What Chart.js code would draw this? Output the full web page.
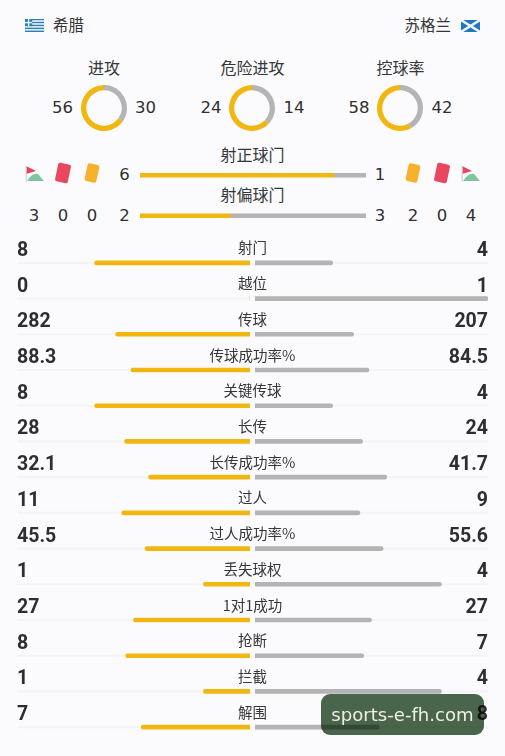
<!DOCTYPE html>
<html><head><meta charset="utf-8">
<script src="https://cdn.jsdelivr.net/npm/chart.js@4"></script>
<style>
html,body{margin:0;padding:0;background:#fbfbfe;width:505px;height:756px;overflow:hidden}
#root{position:relative;width:505px;height:756px;font-family:"Noto Sans CJK SC","Noto Sans",sans-serif;color:#363636}
#root canvas{position:absolute}
.t{position:absolute;white-space:nowrap;line-height:1;transform:translate(-50%,-50%)}
.r{position:absolute;white-space:nowrap;line-height:1;transform:translateY(-50%)}
.n{font-family:"DejaVu Sans",sans-serif;font-size:16.5px;color:#2f2f2f}
.b{font-family:Roboto,sans-serif;font-weight:700;font-size:19.5px;color:#2e2e2e}
.card{position:absolute;border-radius:2px;transform:translate(-50%,-50%) rotate(12deg)}
svg{position:absolute}
#wm{position:absolute;left:321px;top:694px;width:163px;height:41px;border-radius:9px;background:#4a664c;mix-blend-mode:multiply}
#wmt{position:absolute;left:321px;top:694px;width:163px;height:41px;color:#efefe6;font-family:"DejaVu Sans",sans-serif;font-size:18.1px;display:flex;align-items:center;justify-content:center}
</style></head><body><div id="root"></div>
<script>
const teamNames = ['希腊', '苏格兰'];
const donutTitles = ['进攻', '危险进攻', '控球率'];
const donutLeft = [56, 24, 58];
const donutRight = [30, 14, 42];
const goalTitles = ['射正球门', '射偏球门'];
const goalLeft = [6, 2];
const goalRight = [1, 3];
const eventsLeft = [3, 0, 0];
const eventsRight = [2, 0, 4];
const statLabels = ['射门','越位','传球','传球成功率%','关键传球','长传','长传成功率%','过人','过人成功率%','丢失球权','1对1成功','抢断','拦截','解围'];
const statLeft = ['8','0','282','88.3','8','28','32.1','11','45.5','1','27','8','1','7'];
const statRight = ['4','1','207','84.5','4','24','41.7','9','55.6','4','27','7','4','8'];

const YELLOW = '#f2b610', GRAY = '#b4b4b4', TRACK = '#f4f4f6';
const root = document.getElementById('root');
Chart.defaults.animation = false;
const base = {responsive:false, maintainAspectRatio:false, layout:{padding:0},
  plugins:{legend:{display:false}, tooltip:{enabled:false}}, events:[]};

function canvas(x,y,w,h){const c=document.createElement('canvas');c.width=w;c.height=h;
  c.style.cssText=`left:${x}px;top:${y}px;width:${w}px;height:${h}px`;root.appendChild(c);return c;}
function text(cls,s,x,y,size){const d=document.createElement('div');d.className='t '+cls;d.textContent=s;
  d.style.left=x+'px';d.style.top=y+'px';if(size)d.style.fontSize=size+'px';root.appendChild(d);return d;}
function edge(cls,s,side,px,y,size){const d=document.createElement('div');d.className='r '+cls;d.textContent=s;
  d.style[side]=px+'px';d.style.top=y+'px';if(size)d.style.fontSize=size+'px';root.appendChild(d);return d;}
function svg(x,y,w,h,inner){root.insertAdjacentHTML('beforeend',`<svg style="left:${x}px;top:${y}px" width="${w}" height="${h}" viewBox="0 0 ${w} ${h}">${inner}</svg>`);}
function card(x,y,w,h,color){root.insertAdjacentHTML('beforeend',`<div class="card" style="left:${x}px;top:${y}px;width:${w}px;height:${h}px;background:${color}"></div>`);}

// Header
edge('',teamNames[0],'left',53,25,15.5);
edge('',teamNames[1],'right',54,25,15.5);
let stripes='';
for(let i=0;i<9;i++) stripes+=`<rect x="0" y="${i*1.45}" width="19" height="1.45" fill="${i%2?'#dfe9f1':'#2a80b5'}"/>`;
svg(25,19,19,13,stripes+`<rect width="7.2" height="7.2" fill="#2a80b5"/><rect x="2.9" width="1.4" height="7.2" fill="#eef3f7"/><rect y="2.9" width="7.2" height="1.4" fill="#eef3f7"/>`);
svg(461,20,19,12,`<rect width="19" height="12" fill="#1f78c1"/><path d="M0 0L19 12M19 0L0 12" stroke="#f4f7fa" stroke-width="2.4"/>`);

// Doughnuts
const donutX = [104, 252.5, 400.5];
donutTitles.forEach((title,i)=>{
  text('',title,donutX[i],66.5,16);
  text('n',String(donutLeft[i]),donutX[i]-41.5,107.5,16.5);
  text('n',String(donutRight[i]),donutX[i]+41.5,107.5,16.5);
  new Chart(canvas(Math.floor(donutX[i])-24,84,48,48),{type:'doughnut',
    data:{datasets:[{data:[donutRight[i],donutLeft[i]],backgroundColor:[GRAY,YELLOW],borderWidth:0}]},
    options:{...base,cutout:'77%',radius:23}});
});

// Goal bars (each row stacked to its total)
const goalTotals = goalLeft.map((v,i)=>v+goalRight[i]);
goalTitles.forEach((t,i)=>text('',t,252.5,154+40*i,16));
goalLeft.forEach((v,i)=>{text('n',String(v),124.5,175+40.5*i);text('n',String(goalRight[i]),380,175+40.5*i);});
new Chart(canvas(140,155,226,81),{type:'bar',
  data:{labels:goalTitles,datasets:[
    {data:goalLeft.map((v,i)=>v/goalTotals[i]),backgroundColor:YELLOW,barThickness:4},
    {data:goalRight.map((v,i)=>v/goalTotals[i]),backgroundColor:GRAY,barThickness:4}]},
  options:{...base,indexAxis:'y',scales:{
    x:{display:false,stacked:true,min:0,max:1},y:{display:false,stacked:true}}}});

// Event icons
const flag=(x,y)=>svg(x,y,19,18,`<path d="M1 1L11 6L1 9Z" fill="#e8455c"/><rect x="0.6" y="1" width="1.2" height="16" fill="#cfd5cf"/><path d="M2 16Q8 7 13 9L19 16Z" fill="#7fc4a0"/>`);
flag(25,165); card(63,173,13,19,'#e8475f'); card(92,173,12,18,'#f6b22d');
card(413,173,12,18,'#f6b22d'); card(442,173,13,19,'#e8475f'); flag(461,165);
[34,63,92].forEach((x,i)=>text('n',String(eventsLeft[i]),x,215.5));
[413,442,471].forEach((x,i)=>text('n',String(eventsRight[i]),x,215.5));

// Stat rows
const L = statLeft.map(Number), R = statRight.map(Number);
const shareL = L.map((v,i)=>v/(v+R[i])), shareR = R.map((v,i)=>v/(L[i]+v));
const track = statLabels.map(()=>1);
function side(x,shares,color,reverse){
  new Chart(canvas(x,245,233,500),{type:'bar',
    data:{labels:statLabels,datasets:[
      {data:shares,backgroundColor:color,barThickness:4,borderRadius:2,grouped:false,order:1},
      {data:track,backgroundColor:TRACK,barThickness:1.5,grouped:false,order:2}]},
    options:{...base,indexAxis:'y',scales:{
      x:{display:false,min:0,max:1,reverse},y:{display:false}}}});
}
side(17,shareL,YELLOW,true);
side(255,shareR,GRAY,false);
statLabels.forEach((s,i)=>{
  const y=262.86+i*500/14;
  text('',s,252.5,y-15.5,14.5);
  edge('b',statLeft[i],'left',17,y-13);
  edge('b',statRight[i],'right',17,y-13);
});

// Watermark
root.insertAdjacentHTML('beforeend','<div id="wm"></div><div id="wmt">sports-e-fh.com</div>');
</script></body></html>
